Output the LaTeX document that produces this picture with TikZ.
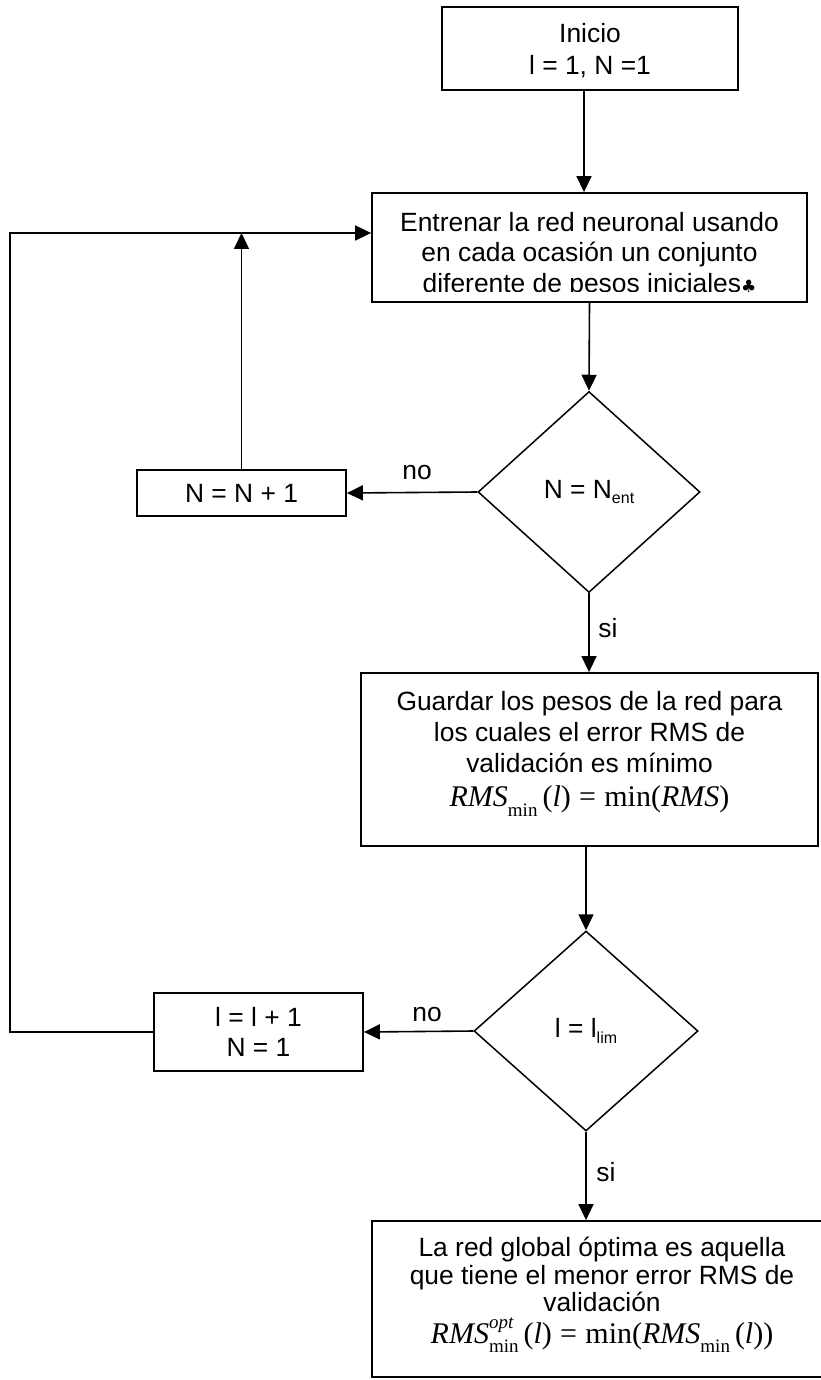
\documentclass[tikz,border=0pt]{standalone}
\usepackage{fontspec}
\setmainfont{Liberation Sans}
\newfontfamily\serifmath{Liberation Serif}
\newfontfamily\symfont{DejaVu Sans}
\usetikzlibrary{shapes.geometric,arrows.meta}

% sizes for the typeset formulas
\newcommand{\mathsz}{\fontsize{30}{30}\selectfont}
\newcommand{\subsz}{\fontsize{19}{19}\selectfont}
\newcommand{\lowidx}[1]{\raisebox{-0.32em}{\subsz #1}}
\newcommand{\smallidx}[1]{\raisebox{-0.22em}{\fontsize{16}{16}\selectfont #1}}

\tikzset{
  every node/.style={font=\fontsize{26.4}{30.8}\selectfont, inner sep=0pt},
  procbox/.style={draw, line width=1.8pt, rectangle, align=center},
  decbox/.style={draw, line width=1.5pt, diamond, inner sep=0pt},
  txt/.style={align=center},
  flow/.style={line width=1.6pt, -{Triangle[length=16pt,width=15pt]}},
  lbl/.style={inner sep=0pt},
}

\begin{document}
\begin{tikzpicture}[x=1pt, y=-1pt]
  \useasboundingbox (0,0) rectangle (821,1380);
  \fill[white] (0,0) rectangle (821,1380);

  % process boxes and decisions
  \node[procbox, minimum width=296pt, minimum height=83pt] (start) at (590,48.5) {};
  \node[txt, font=\fontsize{26.4}{32}\selectfont] (startTxt) at (590,51)
        {Inicio\\l = 1, N =1};
  \node[procbox, minimum width=435pt, minimum height=109pt] (train) at (589.5,247.5) {};
  \node[decbox, minimum width=222pt, minimum height=201pt] (d1) at (589,492)
        {N = N\smallidx{ent}};
  \node[procbox, minimum width=209pt, minimum height=46pt] (inc1) at (241.5,493)
        {N = N + 1};
  \node[procbox, minimum width=457pt, minimum height=173pt] (save) at (589.5,759.5) {};
  \node[decbox, minimum width=224pt, minimum height=200pt] (d2) at (586,1031)
        {l = l\smallidx{lim}};
  \node[procbox, minimum width=209pt, minimum height=78pt,
        font=\fontsize{26.4}{30}\selectfont] (inc2) at (258.5,1032)
        {l = l + 1\\N = 1};
  \node[procbox, minimum width=460pt, minimum height=156pt] (final) at (602,1299) {};

  % box texts
  \begin{scope}
    \clip (372,193) rectangle (807,291);
    \node[txt] (trainTxt) at (589.5,255)
      {Entrenar la red neuronal usando\\en cada ocasión un conjunto\\diferente de pesos iniciales{\symfont\fontsize{17}{17}\selectfont ♣}};
  \end{scope}
  \node[txt, font=\fontsize{26.4}{31}\selectfont] (saveTxt) at (589.5,754)
    {Guardar los pesos de la red para\\los cuales el error RMS de\\validación es mínimo\\[3pt]
     {\serifmath\mathsz\textit{RMS}\lowidx{min}\,(\textit{l})\;=\;min(\textit{RMS})}};
  \node[txt, font=\fontsize{26.4}{27.5}\selectfont] (finalTxt) at (602,1295)
    {La red global óptima es aquella\\que tiene el menor error RMS de\\validación\\[4pt]
     {\serifmath\mathsz\textit{RMS}\rlap{\raisebox{0.5em}{\subsz\itshape opt}}\lowidx{min}\,(\textit{l})\;=\;min(\textit{RMS}\lowidx{min}\,(\textit{l}))}};

  % branch labels
  \node[lbl] (no1) at (417,473) {no};
  \node[lbl] (si1) at (608,628) {si};
  \node[lbl] (no2) at (427,1015) {no};
  \node[lbl] (si2) at (606,1172) {si};

  % loop-back corner point
  \coordinate (loopL) at (10,233);

  % connectors
  \draw[flow] ([xshift=-6pt]start.south) -- ([xshift=-5.5pt]train.north);
  \draw[flow] (train.south) -- (d1.north);
  \draw[flow] (d1.west) -- (inc1.east);
  \draw[flow] (inc1.north) -- (inc1.north |- loopL);
  \draw[flow] (d1.south) -- (save.north -| d1.south);
  \draw[flow] (save.south -| d2.north) -- (d2.north);
  \draw[flow] (d2.west) -- (inc2.east);
  \draw[flow] (inc2.west) -| (loopL) -- (train.west |- loopL);
  \draw[flow] (d2.south) -- (final.north -| d2.south);
\end{tikzpicture}
\end{document}
